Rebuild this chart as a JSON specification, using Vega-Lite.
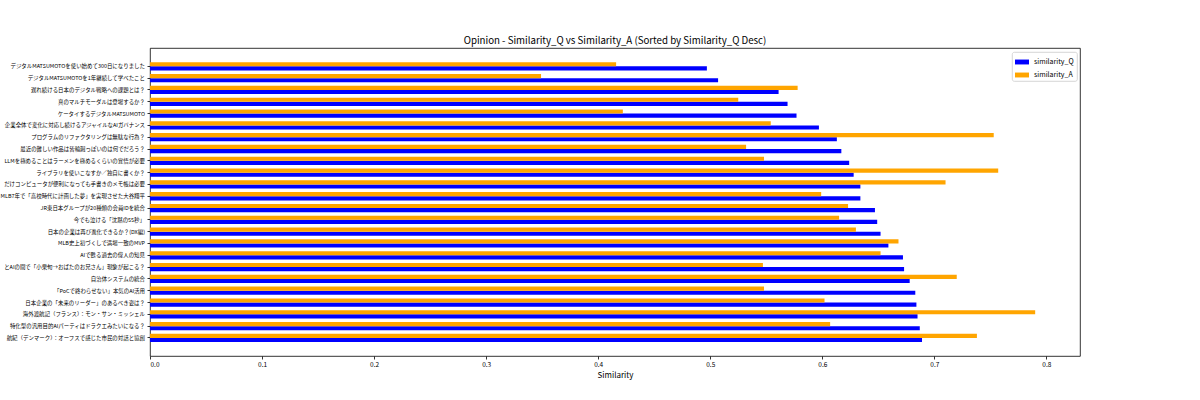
{
  "$schema": "https://vega.github.io/schema/vega-lite/v6.json",
  "width": 930,
  "height": 308,
  "autosize": {"type": "none"},
  "padding": {"left": 150, "top": 48, "right": 120, "bottom": 44},
  "background": "white",
  "title": {
    "text": "Opinion - Similarity_Q vs Similarity_A (Sorted by Similarity_Q Desc)",
    "font": "Noto Sans CJK JP",
    "fontSize": 9.7,
    "fontWeight": "normal",
    "color": "#000",
    "anchor": "middle",
    "offset": 2
  },
  "config": {
    "view": {"stroke": "#000", "strokeWidth": 0.8},
    "font": "Noto Sans CJK JP",
    "legend": {"strokeWidth": 0.8}
  },
  "data": {
    "values": [
      {"title": "デジタルMATSUMOTOを使い始めて300日になりました", "series": "similarity_Q", "value": 0.497},
      {"title": "デジタルMATSUMOTOを使い始めて300日になりました", "series": "similarity_A", "value": 0.416},
      {"title": "デジタルMATSUMOTOを1年継続して学べたこと", "series": "similarity_Q", "value": 0.507},
      {"title": "デジタルMATSUMOTOを1年継続して学べたこと", "series": "similarity_A", "value": 0.349},
      {"title": "遅れ続ける日本のデジタル戦略への課題とは？", "series": "similarity_Q", "value": 0.561},
      {"title": "遅れ続ける日本のデジタル戦略への課題とは？", "series": "similarity_A", "value": 0.578},
      {"title": "真のマルチモーダルは登場するか？", "series": "similarity_Q", "value": 0.569},
      {"title": "真のマルチモーダルは登場するか？", "series": "similarity_A", "value": 0.525},
      {"title": "ケータイするデジタルMATSUMOTO", "series": "similarity_Q", "value": 0.577},
      {"title": "ケータイするデジタルMATSUMOTO", "series": "similarity_A", "value": 0.422},
      {"title": "企業全体で変化に対応し続けるアジャイルなAIガバナンス", "series": "similarity_Q", "value": 0.597},
      {"title": "企業全体で変化に対応し続けるアジャイルなAIガバナンス", "series": "similarity_A", "value": 0.554},
      {"title": "プログラムのリファクタリングは無駄な行為？", "series": "similarity_Q", "value": 0.613},
      {"title": "プログラムのリファクタリングは無駄な行為？", "series": "similarity_A", "value": 0.753},
      {"title": "最近の難しい作品は皆輪廻っぽいのは何でだろう？", "series": "similarity_Q", "value": 0.617},
      {"title": "最近の難しい作品は皆輪廻っぽいのは何でだろう？", "series": "similarity_A", "value": 0.532},
      {"title": "LLMを極めることはラーメンを極めるくらいの覚悟が必要", "series": "similarity_Q", "value": 0.624},
      {"title": "LLMを極めることはラーメンを極めるくらいの覚悟が必要", "series": "similarity_A", "value": 0.548},
      {"title": "ライブラリを使いこなすか／独自に書くか？", "series": "similarity_Q", "value": 0.628},
      {"title": "ライブラリを使いこなすか／独自に書くか？", "series": "similarity_A", "value": 0.757},
      {"title": "だけコンピュータが便利になっても手書きのメモ帳は必要", "series": "similarity_Q", "value": 0.634},
      {"title": "だけコンピュータが便利になっても手書きのメモ帳は必要", "series": "similarity_A", "value": 0.710},
      {"title": "MLB7年で「高校時代に計画した夢」を実現させた大谷翔平", "series": "similarity_Q", "value": 0.634},
      {"title": "MLB7年で「高校時代に計画した夢」を実現させた大谷翔平", "series": "similarity_A", "value": 0.599},
      {"title": "JR東日本グループが20種類の会員IDを統合", "series": "similarity_Q", "value": 0.647},
      {"title": "JR東日本グループが20種類の会員IDを統合", "series": "similarity_A", "value": 0.623},
      {"title": "今でも泣ける「沈黙の55秒」", "series": "similarity_Q", "value": 0.649},
      {"title": "今でも泣ける「沈黙の55秒」", "series": "similarity_A", "value": 0.615},
      {"title": "日本の企業は再び進化できるか？(DX編)", "series": "similarity_Q", "value": 0.652},
      {"title": "日本の企業は再び進化できるか？(DX編)", "series": "similarity_A", "value": 0.630},
      {"title": "MLB史上初づくしで満場一致のMVP", "series": "similarity_Q", "value": 0.659},
      {"title": "MLB史上初づくしで満場一致のMVP", "series": "similarity_A", "value": 0.668},
      {"title": "AIで甦る過去の偉人の知見", "series": "similarity_Q", "value": 0.672},
      {"title": "AIで甦る過去の偉人の知見", "series": "similarity_A", "value": 0.652},
      {"title": "とAIの間で「小栗旬→おばたのお兄さん」現象が起こる？", "series": "similarity_Q", "value": 0.673},
      {"title": "とAIの間で「小栗旬→おばたのお兄さん」現象が起こる？", "series": "similarity_A", "value": 0.547},
      {"title": "自治体システムの統合", "series": "similarity_Q", "value": 0.678},
      {"title": "自治体システムの統合", "series": "similarity_A", "value": 0.720},
      {"title": "「PoCで終わらせない」本気のAI活用", "series": "similarity_Q", "value": 0.683},
      {"title": "「PoCで終わらせない」本気のAI活用", "series": "similarity_A", "value": 0.548},
      {"title": "日本企業の「未来のリーダー」のあるべき姿は？", "series": "similarity_Q", "value": 0.684},
      {"title": "日本企業の「未来のリーダー」のあるべき姿は？", "series": "similarity_A", "value": 0.602},
      {"title": "海外渡航記（フランス）：モン・サン・ミッシェル", "series": "similarity_Q", "value": 0.685},
      {"title": "海外渡航記（フランス）：モン・サン・ミッシェル", "series": "similarity_A", "value": 0.790},
      {"title": "特化型の汎用目的AIパーティはドラクエみたいになる？", "series": "similarity_Q", "value": 0.687},
      {"title": "特化型の汎用目的AIパーティはドラクエみたいになる？", "series": "similarity_A", "value": 0.607},
      {"title": "航紀（デンマーク）：オーフスで感じた市民の対話と協創", "series": "similarity_Q", "value": 0.689},
      {"title": "航紀（デンマーク）：オーフスで感じた市民の対話と協創", "series": "similarity_A", "value": 0.738}
    ]
  },
  "mark": {"type": "bar"},
  "encoding": {
    "y": {
      "field": "title",
      "type": "nominal",
      "sort": null,
      "scale": {"paddingInner": 0.3, "paddingOuter": 1, "range": [2.4, 305.9]},
      "axis": {
        "title": null,
        "labelFontSize": 5.45,
        "labelColor": "#000",
        "labelLimit": 1000,
        "labelPadding": 2.5,
        "tickSize": 3,
        "tickColor": "#000",
        "tickWidth": 0.8,
        "domain": false
      }
    },
    "yOffset": {
      "field": "series",
      "type": "nominal",
      "sort": ["similarity_A", "similarity_Q"],
      "scale": {"paddingInner": 0, "paddingOuter": 0}
    },
    "x": {
      "field": "value",
      "type": "quantitative",
      "scale": {"domain": [0, 0.83], "nice": false, "zero": true},
      "axis": {
        "title": "Similarity",
        "titleFontSize": 8,
        "titleFontWeight": "normal",
        "titleColor": "#000",
        "titlePadding": 4,
        "values": [0, 0.1, 0.2, 0.3, 0.4, 0.5, 0.6, 0.7, 0.8],
        "format": ".1f",
        "labelFontSize": 6.5,
        "labelColor": "#000",
        "labelPadding": 2,
        "tickSize": 3,
        "tickColor": "#000",
        "tickWidth": 0.8,
        "grid": false,
        "domain": false
      }
    },
    "color": {
      "field": "series",
      "type": "nominal",
      "scale": {"domain": ["similarity_Q", "similarity_A"], "range": ["#0000ff", "#ffa500"]},
      "legend": {
        "title": null,
        "orient": "none",
        "legendX": 862,
        "legendY": 4,
        "fillColor": "white",
        "strokeColor": "#cccccc",
        "cornerRadius": 2,
        "padding": 3,
        "labelFontSize": 7,
        "labelColor": "#000",
        "labelOffset": 5,
        "rowPadding": 3,
        "symbolType": "M-1,-0.35H1V0.35H-1Z",
        "symbolSize": 196,
        "symbolStrokeWidth": 0,
        "symbolOpacity": 1
      }
    }
  }
}
